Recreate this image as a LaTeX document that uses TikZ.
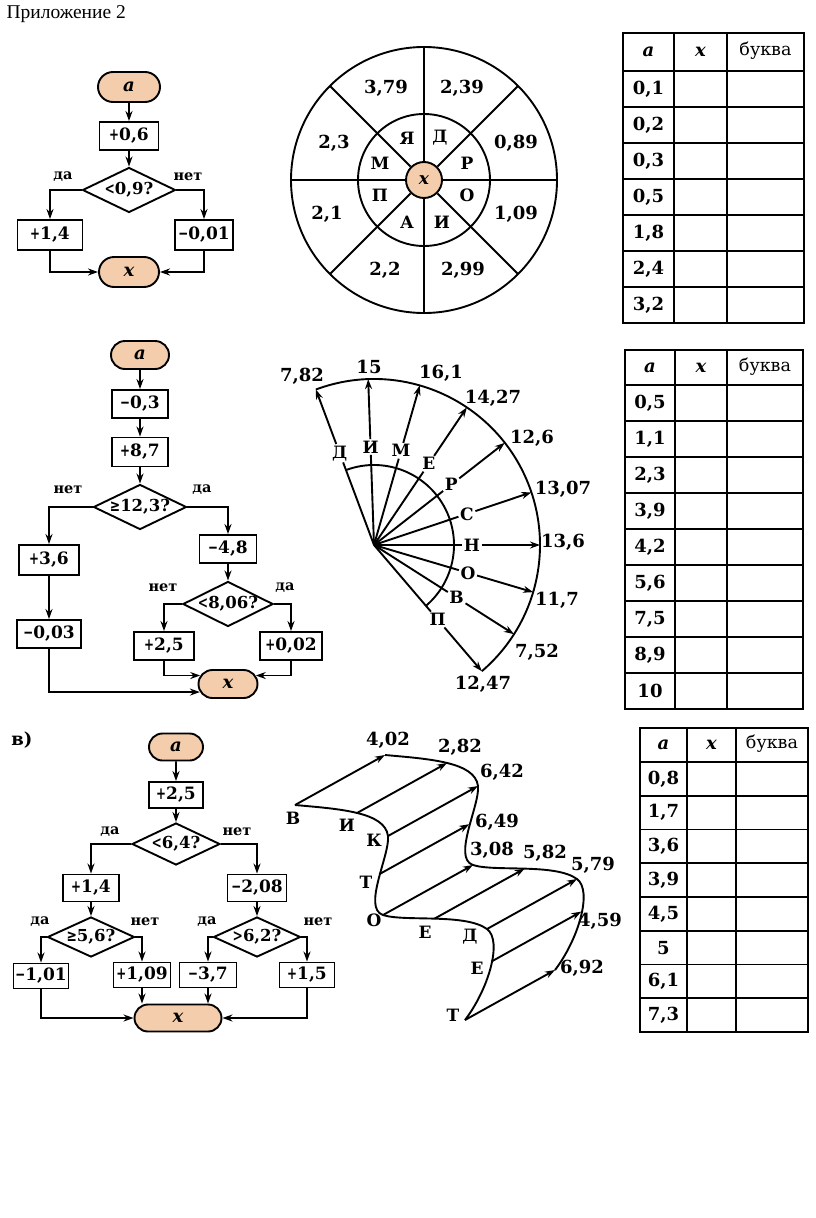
\documentclass[tikz,border=0pt]{standalone}
\usepackage{fontspec}
\usepackage{graphicx}
\setmainfont{DejaVu Serif}
\newfontfamily\titlef{Liberation Serif}
\newfontfamily\symf{DejaVu Sans Bold}
\usetikzlibrary{arrows.meta,shapes.geometric,shapes.misc,calc}
\definecolor{peach}{RGB}{244,205,172}
\newcommand\fs[1]{\fontsize{#1}{#1}\selectfont}
\newcommand\pl{\scalebox{0.7}[1]{+}}
\newcommand\mn{\scalebox{0.7}[1]{\char"2212}}
\newcommand\Lss{\scalebox{0.75}[1]{<}}
\newcommand\Grt{\scalebox{0.75}[1]{>}}
\newcommand\Geq{\scalebox{0.75}[1]{\symf ≥}}
\newcommand\va{\textbf{\textit{a}}}
\newcommand\vx{\textbf{\textit{x}}}
\tikzset{
  ln/.style={line width=1.9pt},
  arr/.style={ln,-{Stealth[length=10pt,width=7pt]}},
  box/.style={draw,ln,rectangle,inner sep=0pt,font=\bfseries\fs{17}},
  term/.style={draw,ln,rounded rectangle,fill=peach,inner sep=0pt,font=\fs{18}},
  decis/.style={draw,ln,diamond,aspect=2,inner sep=0pt,font=\bfseries\fs{16.5}},
  yn/.style={font=\bfseries\fs{14.5}},
  lbl/.style={font=\bfseries\fs{18}},
  ltr/.style={font=\bfseries\fs{17}},
  cell/.style={font=\bfseries\fs{18}},
  hdrb/.style={font=\fs{17.5}},
}
\begin{document}
\begin{tikzpicture}[x=1pt,y=-1pt]
\fill[white] (0,0) rectangle (816,1218);
\useasboundingbox (0,0) rectangle (816,1218);

% title
\node[anchor=base west,font=\titlef\fs{19.5}] (title) at (3,18) {Приложение 2};

% ---------- flowchart 1 ----------
\node[term,minimum width=62pt,minimum height=30pt] (a1) at (129,87) {\va};
\node[box,minimum width=59pt,minimum height=28pt] (b1) at (129,136) {\pl0,6};
\node[decis,minimum width=93pt,minimum height=45pt] (d1) at (129,190) {\Lss0,9?};
\node[box,minimum width=65pt,minimum height=30pt] (b1l) at (50,235) {\pl1,4};
\node[box,minimum width=58pt,minimum height=30pt] (b1r) at (204,235) {\mn0,01};
\node[term,minimum width=60pt,minimum height=30pt] (x1) at (129,272) {\vx};
\node[yn] (y1) at (63,177) {да};
\node[yn] (n1) at (188,177) {нет};
\draw[arr] (a1) -- (b1);
\draw[arr] (b1) -- (d1);
\draw[arr] (d1.west) -| (b1l.north);
\draw[arr] (d1.east) -| (b1r.north);
\draw[arr] (b1l.south) |- (x1.west);
\draw[arr] (b1r.south) |- (x1.east);

% ---------- circle ----------
\coordinate (C) at (424,180);
\draw[ln] (C) circle[radius=133pt];
\draw[ln] (C) circle[radius=66pt];
\node[circle,draw,ln,fill=peach,minimum size=36pt,inner sep=0pt,font=\fs{17}] (xc) at (C) {\vx};
\foreach \a in {0,45,...,315} \draw[ln] (xc.\a) -- ($(C)+(\a:133pt)$);
\node[lbl] (c1) at (386,88) {3,79};
\node[lbl] (c2) at (462,88) {2,39};
\node[lbl] (c3) at (516,143) {0,89};
\node[lbl] (c4) at (516,214) {1,09};
\node[lbl] (c5) at (463,270) {2,99};
\node[lbl] (c6) at (385,270) {2,2};
\node[lbl] (c7) at (327,214) {2,1};
\node[lbl] (c8) at (334,143) {2,3};
\node[ltr] (cl1) at (407,138) {Я};
\node[ltr] (cl2) at (440,138) {Д};
\node[ltr] (cl3) at (467,163) {Р};
\node[ltr] (cl4) at (467,195) {О};
\node[ltr] (cl5) at (442,222) {И};
\node[ltr] (cl6) at (407,222) {А};
\node[ltr] (cl7) at (380,195) {П};
\node[ltr] (cl8) at (380,163) {М};

% ---------- table 1 ----------
\draw[ln] (623,33) rectangle (804,323);
\draw[ln] (674,33) -- (674,323);
\draw[ln] (727,33) -- (727,323);
\foreach \y in {71,107,...,287} \draw[ln] (623,\y) -- (804,\y);
\node[cell] (t1a) at (648.5,52) {\va};
\node[cell] (t1x) at (700.5,52) {\vx};
\node[hdrb] (t1b) at (765.5,51) {буква};
\foreach \v [count=\i] in {{0,1},{0,2},{0,3},{0,5},{1,8},{2,4},{3,2}}
  \node[cell] (t1v\i) at (648.5,{53+36*\i}) {\v};

% ---------- flowchart 2 ----------
\node[term,minimum width=58pt,minimum height=28pt] (a2) at (140,355) {\va};
\node[box,minimum width=56pt,minimum height=28pt] (b2a) at (140,404) {\mn0,3};
\node[box,minimum width=56pt,minimum height=29pt] (b2b) at (140,452) {\pl8,7};
\node[decis,minimum width=93pt,minimum height=43pt] (d2) at (140,507) {\Geq12,3?};
\node[yn] (n2) at (68,490) {нет};
\node[yn] (y2) at (202,490) {да};
\node[box,minimum width=60pt,minimum height=30pt] (b2l1) at (49,560) {\pl3,6};
\node[box,minimum width=64pt,minimum height=28pt] (b2l2) at (49,634) {\mn0,03};
\node[box,minimum width=57pt,minimum height=28pt] (b2r) at (228,549) {\mn4,8};
\node[decis,minimum width=90pt,minimum height=42pt] (d2b) at (228,604) {\Lss8,06?};
\node[yn] (n2b) at (163,588) {нет};
\node[yn] (y2b) at (285,588) {да};
\node[box,minimum width=60pt,minimum height=28pt] (b2rl) at (164,646) {\pl2,5};
\node[box,minimum width=62pt,minimum height=28pt] (b2rr) at (291,646) {\pl0,02};
\node[term,minimum width=59pt,minimum height=28pt] (x2) at (228,684) {\vx};
\draw[arr] (a2) -- (b2a);
\draw[arr] (b2a) -- (b2b);
\draw[arr] (b2b) -- (d2);
\draw[arr] (d2.west) -| (b2l1.north);
\draw[arr] (b2l1) -- (b2l2);
\draw[arr] (d2.east) -| (b2r.north);
\draw[arr] (b2r) -- (d2b);
\draw[arr] (d2b.west) -| (b2rl.north);
\draw[arr] (d2b.east) -| (b2rr.north);
\draw[arr] (b2rl.south) |- (x2.163);
\draw[arr] (b2rr.south) |- (x2.17);
\draw[arr] (b2l2.south) |- (x2.196);

% ---------- fan ----------
\coordinate (F) at (374,545);
\draw[ln] ($(F)+(110.5:166pt)$) arc[start angle=110.5,end angle=-49.5,radius=166pt];
\draw[ln] ($(F)+(110.5:80pt)$) arc[start angle=110.5,end angle=-49.5,radius=80pt];
\foreach \a/\t/\n in {110.5/Д/fd,92/И/fi,74/М/fm,56/Е/fe,38/Р/fr,18.5/С/fc,0/Н/fn,-16.5/О/fo,-32.5/В/fv,-49.5/П/fp}{
  \node[ltr,inner sep=1.5pt] (\n) at ($(F)+(\a:98pt)$) {\t};
  \draw[ln] (F) -- (\n);
  \draw[arr] (\n) -- ($(F)+(\a:166pt)$);
}
\node[lbl] (f1) at (302,376) {7,82};
\node[lbl] (f2) at (369,367) {15};
\node[lbl] (f3) at (441,373) {16,1};
\node[lbl] (f4) at (493,398) {14,27};
\node[lbl] (f5) at (532,438) {12,6};
\node[lbl] (f6) at (563,489) {13,07};
\node[lbl] (f7) at (563,542) {13,6};
\node[lbl] (f8) at (557,600) {11,7};
\node[lbl] (f9) at (537,652) {7,52};
\node[lbl] (f10) at (483,684) {12,47};

% ---------- table 2 ----------
\draw[ln] (625,350) rectangle (803,709);
\draw[ln] (675,350) -- (675,709);
\draw[ln] (727,350) -- (727,709);
\foreach \y in {385,421,...,673} \draw[ln] (625,\y) -- (803,\y);
\node[cell] (t2a) at (650,367.5) {\va};
\node[cell] (t2x) at (701,367.5) {\vx};
\node[hdrb] (t2b) at (765,366.5) {буква};
\foreach \v [count=\i] in {{0,5},{1,1},{2,3},{3,9},{4,2},{5,6},{7,5},{8,9},{10}}
  \node[cell] (t2v\i) at (650,{367+36*\i}) {\v};

% ---------- flowchart 3 ----------
\node[font=\bfseries\fs{18}] (lb) at (22,740) {в)};
\node[term,minimum width=54pt,minimum height=27pt] (a3) at (176,747) {\va};
\node[box,minimum width=54pt,minimum height=26pt] (b3) at (176,795) {\pl2,5};
\node[decis,minimum width=88pt,minimum height=42pt] (d3) at (176,844) {\Lss6,4?};
\node[yn] (y3) at (110,832) {да};
\node[yn] (n3) at (237,832) {нет};
\node[box,minimum width=56pt,minimum height=27pt] (b3l) at (91,888) {\pl1,4};
\node[box,minimum width=59pt,minimum height=27pt] (b3r) at (257,888) {\mn2,08};
\node[decis,minimum width=87pt,minimum height=40pt] (d3l) at (91,937) {\Geq5,6?};
\node[decis,minimum width=87pt,minimum height=40pt] (d3r) at (257,937) {\Grt6,2?};
\node[yn] (y3l) at (40,922) {да};
\node[yn] (n3l) at (145,922) {нет};
\node[yn] (y3r) at (207,922) {да};
\node[yn] (n3r) at (318,922) {нет};
\node[box,minimum width=55pt,minimum height=25pt] (b3ll) at (41,976) {\mn1,01};
\node[box,minimum width=57pt,minimum height=25pt] (b3lr) at (142,975) {\pl1,09};
\node[box,minimum width=57pt,minimum height=25pt] (b3rl) at (208,975) {\mn3,7};
\node[box,minimum width=55pt,minimum height=25pt] (b3rr) at (307,975) {\pl1,5};
\node[term,minimum width=87pt,minimum height=27pt] (x3) at (178,1018) {\vx};
\draw[arr] (a3) -- (b3);
\draw[arr] (b3) -- (d3);
\draw[arr] (d3.west) -| (b3l.north);
\draw[arr] (d3.east) -| (b3r.north);
\draw[arr] (b3l) -- (d3l);
\draw[arr] (b3r) -- (d3r);
\draw[arr] (d3l.west) -| (b3ll.north);
\draw[arr] (d3l.east) -| (b3lr.north);
\draw[arr] (d3r.west) -| (b3rl.north);
\draw[arr] (d3r.east) -| (b3rr.north);
\draw[arr] (b3ll.south) |- (x3.west);
\draw[arr] (b3rr.south) |- (x3.east);
\draw[arr] (b3lr.south) -- (b3lr.south |- x3.north);
\draw[arr] (b3rl.south) -- (b3rl.south |- x3.north);

% ---------- wave ----------
\foreach \s in {0,1}
  \draw[ln,shift={({90*\s},{-50*\s})}] (295,805) .. controls (340,809) and (385,812) .. (388,836)
     .. controls (390,855) and (362,908) .. (383,915)
     .. controls (404,922) and (465,913) .. (487,929)
     .. controls (503,941) and (488,990) .. (465,1020);
\coordinate (w1) at (295,805);
\coordinate (w2) at (357,813);
\coordinate (w3) at (388,836);
\coordinate (w4) at (379.3,874.2);
\coordinate (w5) at (383,915);
\coordinate (w6) at (434.6,918.6);
\coordinate (w7) at (487,929);
\coordinate (w8) at (491.3,961.6);
\coordinate (w9) at (465,1020);
\foreach \i in {1,...,9} \draw[arr] (w\i) -- ($(w\i)+(90,-50)$);
\node[ltr] (wl1) at (293,818) {В};
\node[ltr] (wl2) at (347,825) {И};
\node[ltr] (wl3) at (374,840) {К};
\node[ltr] (wl4) at (366,882) {Т};
\node[ltr] (wl5) at (374,920) {О};
\node[ltr] (wl6) at (425,932) {Е};
\node[ltr] (wl7) at (470,937) {Д};
\node[ltr] (wl8) at (477,968) {Е};
\node[ltr] (wl9) at (453,1015) {Т};
\node[lbl] (wr1) at (388,740) {4,02};
\node[lbl] (wr2) at (460,747) {2,82};
\node[lbl] (wr3) at (502,772) {6,42};
\node[lbl] (wr4) at (497,822) {6,49};
\node[lbl] (wr5) at (492,850) {3,08};
\node[lbl] (wr6) at (545,853) {5,82};
\node[lbl] (wr7) at (593,865) {5,79};
\node[lbl] (wr8) at (600,921) {4,59};
\node[lbl] (wr9) at (582,968) {6,92};

% ---------- table 3 ----------
\draw[ln] (640,728) rectangle (808,1032);
\draw[ln] (687,728) -- (687,1032);
\draw[ln] (736,728) -- (736,1032);
\foreach \k in {0,...,7} \draw[ln] (640,{762+33.75*\k}) -- (808,{762+33.75*\k});
\node[cell] (t3a) at (663.5,745) {\va};
\node[cell] (t3x) at (711.5,745) {\vx};
\node[hdrb] (t3b) at (772,744) {буква};
\foreach \v [count=\i] in {{0,8},{1,7},{3,6},{3,9},{4,5},{5},{6,1},{7,3}}
  \node[cell] (t3v\i) at (663.5,{745.125+33.75*\i}) {\v};
\end{tikzpicture}
\end{document}
